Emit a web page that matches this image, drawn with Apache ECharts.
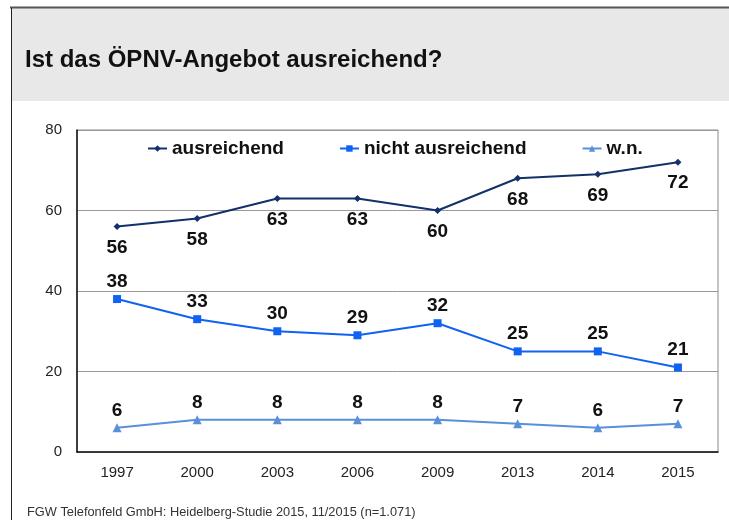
<!DOCTYPE html>
<html>
<head>
    <meta charset="utf-8">
    <title>Ist das ÖPNV-Angebot ausreichend?</title>
    <script src="https://cdn.jsdelivr.net/npm/echarts@6.0.0/dist/echarts.min.js"></script>
    <style>
        html, body { margin: 0; padding: 0; background: #fff; }
        #chart { width: 729px; height: 520px; }
    </style>
</head>
<body>
    <div id="chart"></div>

    <script>
        // data
        const years = ['1997', '2000', '2003', '2006', '2009', '2013', '2014', '2015'];
        const ausreichend = [56, 58, 63, 63, 60, 68, 69, 72];
        const nichtAusreichend = [38, 33, 30, 29, 32, 25, 25, 21];
        const wn = [6, 8, 8, 8, 8, 7, 6, 7];

        const font = 'Liberation Sans, Arial, sans-serif';

        const labelStyle = (pos, dist) => ({
            show: true,
            position: pos,
            distance: dist,
            color: '#111',
            fontSize: 19,
            fontWeight: 'bold',
            fontFamily: font
        });

        const chart = echarts.init(document.getElementById('chart'));

        chart.setOption({
            animation: false,
            backgroundColor: '#fff',
            textStyle: { fontFamily: font },
            graphic: [
                // grey header band
                { type: 'rect', z: -1, shape: { x: 11, y: 8, width: 718, height: 93 }, style: { fill: '#e8e8e8' } },
                // top frame line
                { type: 'line', shape: { x1: 10, y1: 7.5, x2: 729, y2: 7.5 }, style: { stroke: '#555', lineWidth: 2 } },
                // left frame line
                { type: 'line', shape: { x1: 11.5, y1: 8, x2: 11.5, y2: 520 }, style: { stroke: '#222', lineWidth: 1 } },
                // footer
                {
                    type: 'text', left: 27, top: 506,
                    style: { text: 'FGW Telefonfeld GmbH: Heidelberg-Studie 2015, 11/2015 (n=1.071)', fill: '#333', fontSize: 12.8, fontFamily: font }
                }
            ],
            title: {
                text: 'Ist das ÖPNV-Angebot ausreichend?',
                left: 20,
                top: 43,
                textStyle: { fontSize: 24, fontWeight: 'bold', color: '#111', fontFamily: font }
            },
            legend: {
                top: 134,
                left: 142,
                itemGap: 55,
                itemWidth: 19,
                itemHeight: 8,
                textStyle: { fontSize: 19, fontWeight: 'bold', color: '#111', fontFamily: font }
            },
            grid: {
                left: 77,
                right: 11,
                top: 130,
                bottom: 68,
                show: true,
                borderColor: '#888',
                borderWidth: 1
            },
            xAxis: {
                type: 'category',
                data: years,
                boundaryGap: true,
                axisLine: { lineStyle: { color: '#111', width: 1.5 } },
                axisTick: { show: false },
                axisLabel: { color: '#222', fontSize: 15, margin: 13 }
            },
            yAxis: {
                type: 'value',
                min: 0,
                max: 80,
                interval: 20,
                axisLine: { show: true, lineStyle: { color: '#111', width: 1.5 } },
                axisTick: { show: false },
                axisLabel: { color: '#222', fontSize: 15, margin: 15 },
                splitLine: { lineStyle: { color: '#999', width: 1 } }
            },
            series: [
                {
                    name: 'ausreichend',
                    type: 'line',
                    data: ausreichend,
                    color: '#13306b',
                    symbol: 'diamond',
                    symbolSize: 7,
                    lineStyle: { width: 2 },
                    label: labelStyle('bottom', 8)
                },
                {
                    name: 'nicht ausreichend',
                    type: 'line',
                    data: nichtAusreichend,
                    color: '#0f62f2',
                    symbol: 'rect',
                    symbolSize: 8,
                    lineStyle: { width: 2 },
                    label: labelStyle('top', 4)
                },
                {
                    name: 'w.n.',
                    type: 'line',
                    data: wn,
                    color: '#5a8fdb',
                    symbol: 'triangle',
                    symbolSize: 9,
                    lineStyle: { width: 2 },
                    label: labelStyle('top', 3)
                }
            ]
        });
    </script>
</body>
</html>
